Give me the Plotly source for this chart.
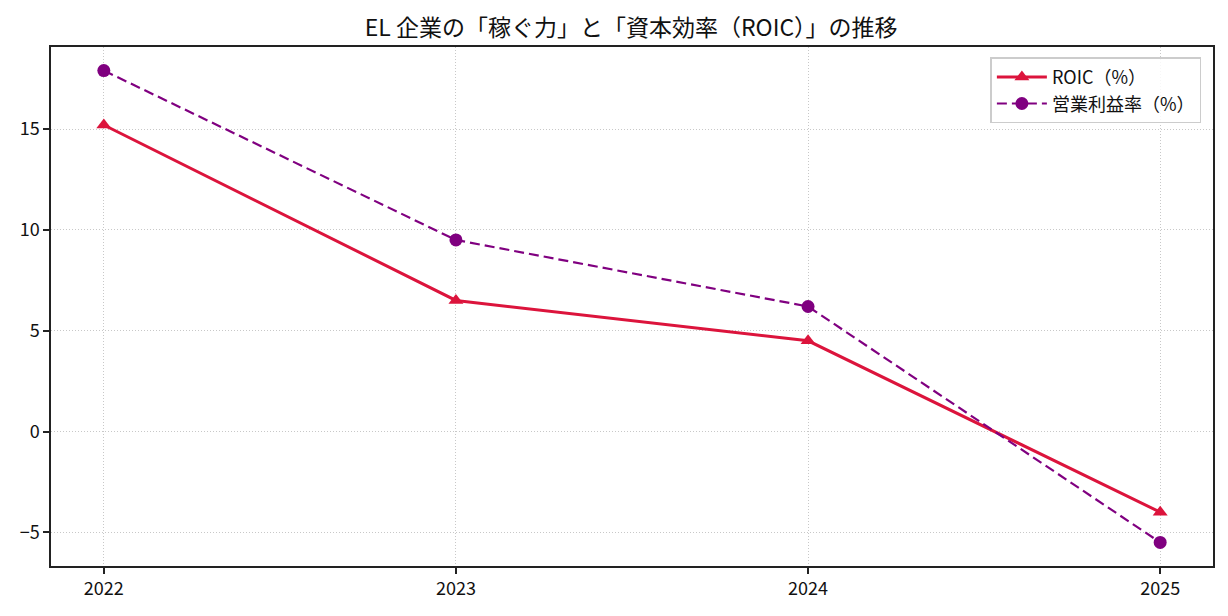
import plotly.graph_objects as go

years = [2022, 2023, 2024, 2025]
roic = [15.2, 6.5, 4.5, -4.0]
op_margin = [17.9, 9.5, 6.2, -5.5]
x_labels = ["2022", "2023", "2024", "2025"]
y_ticks = [-5, 0, 5, 10, 15]

FONT = "Noto Sans CJK JP"

fig = go.Figure()
fig.add_trace(go.Scatter(
    x=years, y=roic, name="ROIC（%）", mode="lines+markers",
    line=dict(color="crimson", width=3),
    marker=dict(symbol="triangle-up", size=13, color="crimson"),
))
fig.add_trace(go.Scatter(
    x=years, y=op_margin, name="営業利益率（%）", mode="lines+markers",
    line=dict(color="purple", width=2.2, dash="10px,5px"),
    marker=dict(symbol="circle", size=13, color="purple"),
))

axis_common = dict(
    showline=True, linecolor="#222", linewidth=1.5, mirror=True,
    ticks="outside", ticklen=6, tickwidth=1.5, tickcolor="#222",
    showgrid=True, gridcolor="#c8c8c8", griddash="1px,2px", gridwidth=1,
    zeroline=False, tickfont=dict(family=FONT, size=18, color="#111"),
)

fig.update_layout(
    width=1228, height=616,
    margin=dict(l=51, r=15, t=47, b=50),
    paper_bgcolor="white", plot_bgcolor="white",
    title=dict(text="EL 企業の「稼ぐ力」と「資本効率（ROIC）」の推移",
               x=0.514, xanchor="center", y=0.955, yanchor="middle",
               font=dict(family=FONT, size=23, color="#111")),
    xaxis=dict(range=[2021.85, 2025.15], tickvals=years, ticktext=x_labels, **axis_common),
    yaxis=dict(range=[-6.67, 19.07], tickvals=y_ticks, **axis_common),
    legend=dict(x=0.99, y=0.98, xanchor="right", yanchor="top",
                bgcolor="rgba(255,255,255,0.85)", bordercolor="#ccc", borderwidth=1.5,
                font=dict(family=FONT, size=18, color="#111"),
                itemwidth=50),
    showlegend=True,
)

fig.write_html("out.html")
